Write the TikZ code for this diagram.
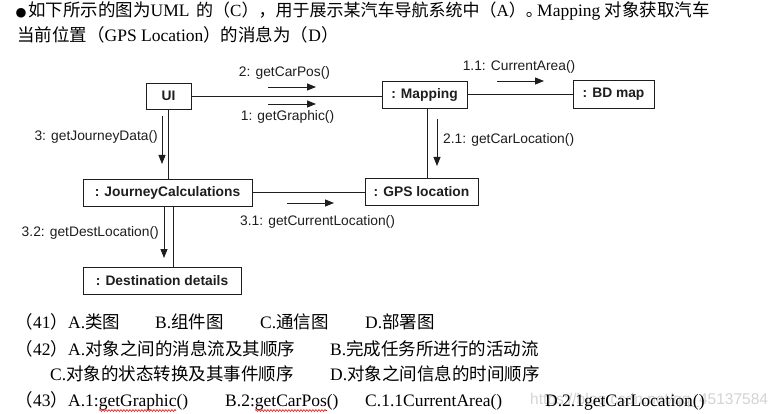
\documentclass[tikz,border=0pt]{standalone}
\usepackage{fontspec}
\setmainfont{Liberation Serif}
\setsansfont{Liberation Sans}
\newfontfamily\cjk{Noto Sans CJK SC}
\newfontfamily\djv{DejaVu Sans}
\usetikzlibrary{arrows.meta,decorations.pathmorphing}
\newcommand\cj[1]{{\cjk #1}}
\definecolor{ink}{RGB}{30,30,30}
\definecolor{wm}{RGB}{212,212,212}
\begin{document}
\begin{tikzpicture}[x=1pt,y=-1pt,
  obj/.style={draw=ink,line width=0.9pt,inner sep=0pt,text=ink,
    font=\sffamily\bfseries\fontsize{13.8}{15}\selectfont,minimum height=27},
  lbl/.style={inner sep=0pt,text=ink,font=\sffamily\fontsize{13.8}{15}\selectfont},
  link/.style={draw=ink,line width=0.9pt},
  msg/.style={draw=ink,line width=0.8pt,-{Triangle[length=9pt,width=7pt]}},
  txt/.style={inner sep=0pt,anchor=base west,font=\fontsize{17.5}{20}\selectfont},
  wavy/.style={draw=red,line width=0.6pt,decorate,decoration={snake,amplitude=0.9pt,segment length=3pt}}
]
\fill[white] (0,0) rectangle (778,414);
\useasboundingbox (0,0) rectangle (778,414);

% ---- question text ----
\node[txt,font=\fontsize{12.5}{14}\selectfont] (t1a) at (15.5,16.5) {{\djv ●}};
\node[txt] (t1b) at (28,17) {\cj{如下所示的图为}UML};
\node[txt,font=\fontsize{17}{20}\selectfont] (t1c) at (196,17) {\cj{的（}C\cj{），用于展示某汽车导航系统中（}A\cj{）。}};
\node[txt] (t1d) at (537,17) {Mapping \cj{对象获取汽车}};
\node[txt] (t2) at (17,41.5) {\cj{当前位置（}GPS Location\cj{）的消息为（}D\cj{）}};

% ---- diagram objects ----
\node[obj,minimum width=45,minimum height=26] (ui) at (168.5,96) {UI};
\node[obj,minimum width=85] (map) at (424.5,94.5) {: Mapping};
\node[obj,minimum width=81,minimum height=28] (bd) at (613.5,94) {: BD map};
\node[obj,minimum width=169] (jc) at (167.5,192.5) {: JourneyCalculations};
\node[obj,minimum width=113] (gps) at (421.5,191.5) {: GPS location};
\node[obj,minimum width=158] (dest) at (162,280.5) {: Destination details};

% ---- links ----
\draw[link] (ui.east) -- (ui.east -| map.west);
\draw[link] (map.east) -- (map.east -| bd.west);
\draw[link] (ui.south) -- (ui.south |- jc.north);
\draw[link] (jc.east) -- (jc.east -| gps.west);
\coordinate (jcs) at ([xshift=5.5pt]jc.south);
\draw[link] (jcs) -- (jcs |- dest.north);
\coordinate (maps) at ([xshift=2.5pt]map.south);
\draw[link] (maps) -- (maps |- gps.north);

% ---- messages ----
\coordinate (m2a) at (268,87);  \coordinate (m2b) at (316,87);
\draw[msg] (m2a) -- (m2b);
\node[lbl] (l2) at (284.5,73) {2: getCarPos()};

\coordinate (m1a) at (268,104); \coordinate (m1b) at (316,104);
\draw[msg] (m1a) -- (m1b);
\node[lbl] (l1) at (287.5,117) {1: getGraphic()};

\coordinate (m11a) at (497,81); \coordinate (m11b) at (544,81);
\draw[msg] (m11a) -- (m11b);
\node[lbl] (l11) at (519,67) {1.1: CurrentArea()};

\coordinate (m21a) at (437,119); \coordinate (m21b) at (437,166);
\draw[msg] (m21a) -- (m21b);
\node[lbl,anchor=west] (l21) at (443,140) {2.1: getCarLocation()};

\coordinate (m3a) at (162,116); \coordinate (m3b) at (162,164);
\draw[msg] (m3a) -- (m3b);
\node[lbl,anchor=east] (l3) at (158,137) {3: getJourneyData()};

\coordinate (m32a) at (164,207); \coordinate (m32b) at (164,258);
\draw[msg] (m32a) -- (m32b);
\node[lbl,anchor=east] (l32) at (159,233) {3.2: getDestLocation()};

\coordinate (m31a) at (287,203); \coordinate (m31b) at (334,203);
\draw[msg] (m31a) -- (m31b);
\node[lbl,anchor=west] (l31) at (240,222) {3.1: getCurrentLocation()};

% ---- watermark ----
\node[inner sep=0pt,anchor=base west,text=wm,font=\sffamily\fontsize{15.5}{17}\selectfont] (wmk) at (530,404) {https://blog.csdn.net/qq\_45137584};

% ---- options ----
\node[txt] (q41) at (15.5,328) {\cj{（}41\cj{）}};
\node[txt] (q41a) at (68,328) {A.\cj{类图}};
\node[txt] (q41b) at (155,328) {B.\cj{组件图}};
\node[txt] (q41c) at (260,328) {C.\cj{通信图}};
\node[txt] (q41d) at (365,328) {D.\cj{部署图}};

\node[txt] (q42) at (15.5,355) {\cj{（}42\cj{）}};
\node[txt] (q42a) at (68,355) {A.\cj{对象之间的消息流及其顺序}};
\node[txt] (q42b) at (330,355) {B.\cj{完成任务所进行的活动流}};
\node[txt] (q42c) at (50,380.5) {C.\cj{对象的状态转换及其事件顺序}};
\node[txt] (q42d) at (330,380.5) {D.\cj{对象之间信息的时间顺序}};

\node[txt] (q43) at (15.5,406.5) {\cj{（}43\cj{）}};
\node[txt] (q43a) at (68,406.5) {A.1:getGraphic()};
\node[txt] (q43b) at (225,406.5) {B.2:getCarPos()};
\node[txt] (q43c) at (365,406.5) {C.1.1CurrentArea()};
\node[txt] (q43d) at (545,406.5) {D.2.1getCarLocation()};

\draw[wavy] (99,410.5) -- (176,410.5);
\draw[wavy] (255,410.5) -- (327,410.5);
\end{tikzpicture}
\end{document}
